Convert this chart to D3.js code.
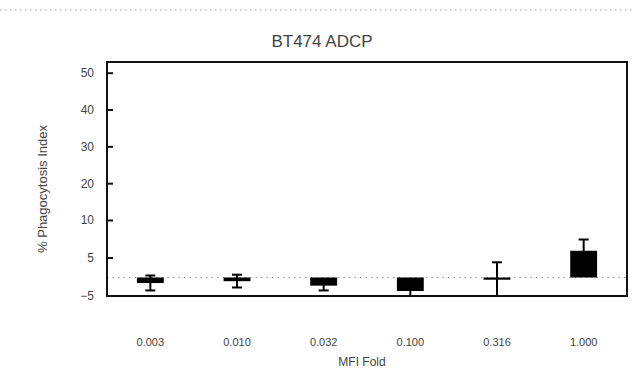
<!DOCTYPE html>
<html>
<head>
<meta charset="utf-8">
<script src="https://cdn.jsdelivr.net/npm/d3@7"></script>
<style>
  html, body { margin: 0; padding: 0; background: #fff; }
  svg { display: block; }
  text { font-family: "Liberation Sans", Arial, sans-serif; fill: #444; }
</style>
</head>
<body>
<svg id="chart" width="635" height="376"></svg>
<script>
// Dose levels (fold) and mean response with error (SD)
const categories = ["0.003", "0.010", "0.032", "0.100", "0.316", "1.000"];
const means = [-1.5, -1.0, -2.2, -3.65, -0.6, 5.9];
const errors = [2.0, 1.7, 1.3, 2.0, 4.4, 1.5];
const yTickValues = [50, 40, 30, 20, 10, 5, -5];

const chartTitle = "BT474 ADCP";
const xTitle = "MFI Fold";
const yTitle = "% Phagocytosis Index";

const svg = d3.select("#chart");
const W = 635, H = 376;
const plot = { left: 107, right: 627, top: 62, bottom: 296 };

// Segmented y axis: finer scale near zero, coarser above 10
const y = d3.scaleLinear()
  .domain([-5, 0, 5, 10, 50])
  .range([296, 277.5, 257.5, 220, 72.7]);

const x = d3.scaleBand()
  .domain(categories)
  .range([plot.left, plot.right])
  .paddingInner(0.69)
  .paddingOuter(0.345);

// dotted rule across the top of the page
svg.append("line")
  .attr("x1", 0).attr("x2", W).attr("y1", 10).attr("y2", 10)
  .attr("stroke", "#9a9a9a").attr("stroke-width", 1)
  .attr("stroke-dasharray", "1.5,3.5");

svg.append("defs").append("clipPath").attr("id", "plotClip")
  .append("rect")
  .attr("x", plot.left).attr("y", plot.top)
  .attr("width", plot.right - plot.left)
  .attr("height", plot.bottom - plot.top);

// zero reference line
svg.append("line")
  .attr("x1", plot.left).attr("x2", plot.right)
  .attr("y1", y(0)).attr("y2", y(0))
  .attr("stroke", "#999").attr("stroke-width", 1)
  .attr("stroke-dasharray", "1.5,4");

const g = svg.append("g").attr("clip-path", "url(#plotClip)");

// bars from zero
g.selectAll("rect.bar")
  .data(categories)
  .join("rect")
  .attr("class", "bar")
  .attr("x", d => x(d))
  .attr("width", x.bandwidth())
  .attr("y", (d, i) => Math.min(y(0), y(means[i])))
  .attr("height", (d, i) => Math.abs(y(means[i]) - y(0)))
  .attr("fill", "#000");

// error bars
const capW = 10;
const cx = d => x(d) + x.bandwidth() / 2;
const eb = g.selectAll("g.err")
  .data(categories)
  .join("g")
  .attr("class", "err")
  .attr("stroke", "#000")
  .attr("stroke-width", 2);

eb.append("line")
  .attr("x1", cx).attr("x2", cx)
  .attr("y1", (d, i) => y(means[i] + errors[i]))
  .attr("y2", (d, i) => y(means[i] - errors[i]));

eb.append("line")
  .attr("x1", d => cx(d) - capW / 2)
  .attr("x2", d => cx(d) + capW / 2)
  .attr("y1", (d, i) => y(means[i] + errors[i]))
  .attr("y2", (d, i) => y(means[i] + errors[i]));

eb.append("line")
  .attr("x1", d => cx(d) - capW / 2)
  .attr("x2", d => cx(d) + capW / 2)
  .attr("y1", (d, i) => y(means[i] - errors[i]))
  .attr("y2", (d, i) => y(means[i] - errors[i]));

// plot frame
svg.append("rect")
  .attr("x", plot.left).attr("y", plot.top)
  .attr("width", plot.right - plot.left)
  .attr("height", plot.bottom - plot.top)
  .attr("fill", "none").attr("stroke", "#111").attr("stroke-width", 2);

// y axis: inward ticks, labels to the left
const yAxis = d3.axisLeft(y)
  .tickValues(yTickValues)
  .tickSize(0)
  .tickPadding(0)
  .tickFormat(d3.format("d"));
const ya = svg.append("g").attr("transform", `translate(${plot.left},0)`).call(yAxis);
ya.select(".domain").remove();
ya.selectAll(".tick text")
  .attr("x", -13)
  .attr("font-size", 12)
  .attr("font-family", "Liberation Sans, Arial, sans-serif")
  .attr("fill", "#444");
ya.selectAll(".tick")
  .filter(d => d !== -5)
  .append("line")
  .attr("x1", 0).attr("x2", 6)
  .attr("stroke", "#111").attr("stroke-width", 2);

// x axis labels
const xAxis = d3.axisBottom(x).tickSize(0).tickPadding(0);
const xa = svg.append("g").attr("transform", `translate(0,${plot.bottom})`).call(xAxis);
xa.select(".domain").remove();
xa.selectAll(".tick text")
  .attr("y", 42)
  .attr("font-size", 11)
  .attr("font-family", "Liberation Sans, Arial, sans-serif")
  .attr("fill", "#444");

// titles
svg.append("text")
  .attr("x", 322).attr("y", 47)
  .attr("text-anchor", "middle")
  .attr("font-size", 17)
  .text(chartTitle);

svg.append("text")
  .attr("x", 362).attr("y", 366)
  .attr("text-anchor", "middle")
  .attr("font-size", 12)
  .text(xTitle);

svg.append("text")
  .attr("transform", `translate(47,189) rotate(-90)`)
  .attr("text-anchor", "middle")
  .attr("font-size", 13)
  .text(yTitle);
</script>
</body>
</html>
